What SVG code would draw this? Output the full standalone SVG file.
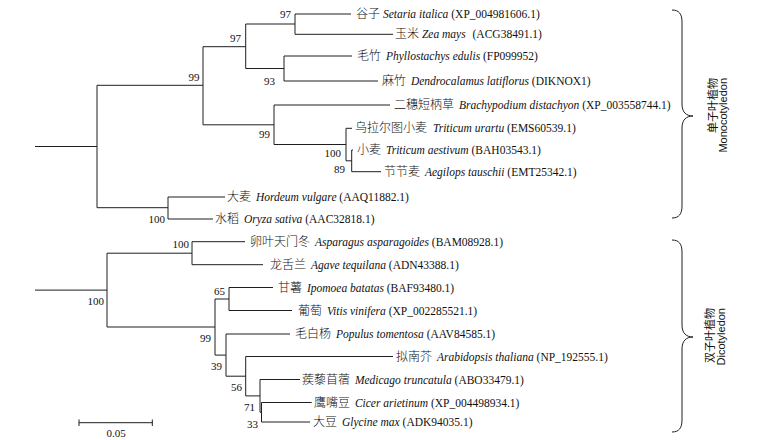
<svg xmlns="http://www.w3.org/2000/svg" width="765" height="440" viewBox="0 0 765 440">
<style>
.br{stroke:#1e1e1e;stroke-width:1;fill:none}
.lf{font-family:"Liberation Serif","Noto Sans CJK SC",serif;font-size:11.5px;fill:#111}
.cn{font-family:"Noto Sans CJK SC",sans-serif;font-size:12px;font-weight:300}
.it{font-style:italic}
.bs{font-family:"Liberation Serif",serif;font-size:11px;text-anchor:end;fill:#111}
.side{font-family:"Liberation Sans","Noto Sans CJK SC",sans-serif;font-size:11px;text-anchor:end;fill:#111}
</style>
<rect width="765" height="440" fill="#fff"/>
<g id="connectors" class="br">
<path d="M35,146.5H97 M97,85.3V207.7 M97,85.3H203 M97,207.7H168 M203,46.7V124.8 M203,46.7H245.7 M203,124.8H274 M245.7,24V68.5 M245.7,24H295 M245.7,68.5H284 M295,14V34.3 M295,14H351 M295,34.3H393 M284,56V81 M284,56H352 M284,81H378 M274,105V144.5 M274,105H390 M274,144.5H346 M346,128.3V160.8 M346,128.3H352 M346,160.8H351.7 M351.7,150V171.7 M351.7,150H353 M351.7,171.7H381 M168,197V219 M168,197H225 M168,219H213"/>
<path d="M35,290.1H107 M107,253.2V327 M107,253.2H192 M107,327H215 M192,241.7V264.7 M192,241.7H245 M192,264.7H263 M215,299V355.1 M215,299H229 M215,355.1H226 M229,287.5V310.5 M229,287.5H273 M229,310.5H292 M226,334V376.2 M226,334H290 M226,376.2H245.7 M245.7,356.5V395.9 M245.7,356.5H393 M245.7,395.9H260 M260,379.5V412.25 M260,379.5H300 M260,412.25H261.5 M261.5,402.5V422 M261.5,402.5H311.7 M261.5,422H310"/>
<path d="M672,10C679,10 682,14 682,22V104C682,112 686,116 693,116C686,116 682,120 682,128V206C682,214 679,218 672,218"/>
<path d="M672,240C679,240 682,244 682,252V325C682,333 686,337 693,337C686,337 682,341 682,349V420C682,428 679,432 672,432"/>
<path d="M79,422.7H152.3 M79,419.5V426 M152.3,419.5V426"/>
</g>
<g id="bootstrap">
<g id="n-mono-97a"><text class="bs" x="291" y="18">97</text></g>
<g id="n-mono-97b"><text class="bs" x="241" y="41.5">97</text></g>
<g id="n-mono-99a"><text class="bs" x="199.5" y="80.5">99</text></g>
<g id="n-mono-93"><text class="bs" x="275" y="85">93</text></g>
<g id="n-mono-99b"><text class="bs" x="270" y="138">99</text></g>
<g id="n-mono-100a"><text class="bs" x="341" y="157">100</text></g>
<g id="n-mono-89"><text class="bs" x="345" y="173">89</text></g>
<g id="n-mono-100b"><text class="bs" x="165" y="222.5">100</text></g>
<g id="n-di-100a"><text class="bs" x="104" y="305">100</text></g>
<g id="n-di-100b"><text class="bs" x="189" y="248">100</text></g>
<g id="n-di-65"><text class="bs" x="225" y="295">65</text></g>
<g id="n-di-99"><text class="bs" x="211" y="341.5">99</text></g>
<g id="n-di-39"><text class="bs" x="222" y="370">39</text></g>
<g id="n-di-56"><text class="bs" x="242" y="390.5">56</text></g>
<g id="n-di-71"><text class="bs" x="255" y="411">71</text></g>
<g id="n-di-33"><text class="bs" x="258" y="428">33</text></g>
</g>
<g id="leaf-setaria"><text class="lf" x="356" y="18"><tspan class="cn">谷子</tspan> <tspan class="it">Setaria italica</tspan> (XP_004981606.1)</text></g>
<g id="leaf-zea"><text class="lf" x="395" y="38.3"><tspan class="cn">玉米</tspan> <tspan class="it">Zea mays</tspan> <tspan dx="4">(ACG38491.1)</tspan></text></g>
<g id="leaf-phyllostachys"><text class="lf" x="357" y="60"><tspan class="cn">毛竹</tspan> <tspan class="it" dx="2">Phyllostachys edulis</tspan> (FP099952)</text></g>
<g id="leaf-dendrocalamus"><text class="lf" x="382" y="85"><tspan class="cn">麻竹</tspan> <tspan class="it" dx="2">Dendrocalamus latiflorus</tspan> (DIKNOX1)</text></g>
<g id="leaf-brachypodium"><text class="lf" x="394" y="109"><tspan class="cn">二穗短柄草</tspan> <tspan class="it" dx="2">Brachypodium distachyon</tspan> (XP_003558744.1)</text></g>
<g id="leaf-urartu"><text class="lf" x="355" y="132.3"><tspan class="cn">乌拉尔图小麦</tspan> <tspan class="it" dx="3">Triticum urartu</tspan> (EMS60539.1)</text></g>
<g id="leaf-aestivum"><text class="lf" x="357" y="154"><tspan class="cn">小麦</tspan> <tspan class="it" dx="2">Triticum aestivum</tspan> (BAH03543.1)</text></g>
<g id="leaf-aegilops"><text class="lf" x="384" y="175.7"><tspan class="cn">节节麦</tspan> <tspan class="it" dx="2">Aegilops tauschii</tspan> (EMT25342.1)</text></g>
<g id="leaf-hordeum"><text class="lf" x="227" y="201"><tspan class="cn">大麦</tspan> <tspan class="it" dx="2">Hordeum vulgare</tspan> (AAQ11882.1)</text></g>
<g id="leaf-oryza"><text class="lf" x="215" y="223"><tspan class="cn">水稻</tspan> <tspan class="it" dx="2">Oryza sativa</tspan> (AAC32818.1)</text></g>
<g id="leaf-asparagus"><text class="lf" x="250" y="245.7"><tspan class="cn">卵叶天门冬</tspan> <tspan class="it" dx="2">Asparagus asparagoides</tspan> (BAM08928.1)</text></g>
<g id="leaf-agave"><text class="lf" x="270" y="268.7"><tspan class="cn">龙舌兰</tspan> <tspan class="it" dx="2">Agave tequilana</tspan> (ADN43388.1)</text></g>
<g id="leaf-ipomoea"><text class="lf" x="278" y="291.5"><tspan class="cn">甘薯</tspan> <tspan class="it" dx="2">Ipomoea batatas</tspan> (BAF93480.1)</text></g>
<g id="leaf-vitis"><text class="lf" x="298" y="314.5"><tspan class="cn">葡萄</tspan> <tspan class="it" dx="2">Vitis vinifera</tspan> (XP_002285521.1)</text></g>
<g id="leaf-populus"><text class="lf" x="295" y="338"><tspan class="cn">毛白杨</tspan> <tspan class="it" dx="2">Populus tomentosa</tspan> (AAV84585.1)</text></g>
<g id="leaf-arabidopsis"><text class="lf" x="396" y="360.5"><tspan class="cn">拟南芥</tspan> <tspan class="it" dx="2">Arabidopsis thaliana</tspan> (NP_192555.1)</text></g>
<g id="leaf-medicago"><text class="lf" x="302" y="383.5"><tspan class="cn">蒺藜苜蓿</tspan> <tspan class="it" dx="2">Medicago truncatula</tspan> (ABO33479.1)</text></g>
<g id="leaf-cicer"><text class="lf" x="314" y="406.5"><tspan class="cn">鹰嘴豆</tspan> <tspan class="it" dx="2">Cicer arietinum</tspan> (XP_004498934.1)</text></g>
<g id="leaf-glycine"><text class="lf" x="313" y="426"><tspan class="cn">大豆</tspan> <tspan class="it" dx="2">Glycine max</tspan> (ADK94035.1)</text></g>
<g id="scale-label"><text class="bs" x="116" y="437" style="text-anchor:middle">0.05</text></g>
<g id="group-monocot">
<text class="side" x="717" y="78" transform="rotate(-90 717 78)">单子叶植物</text>
<text class="side" x="727" y="78" transform="rotate(-90 727 78)">Monocotyledon</text>
</g>
<g id="group-dicot">
<text class="side" x="714" y="308" transform="rotate(-90 714 308)">双子叶植物</text>
<text class="side" x="725" y="308" transform="rotate(-90 725 308)">Dicotyledon</text>
</g>
</svg>
